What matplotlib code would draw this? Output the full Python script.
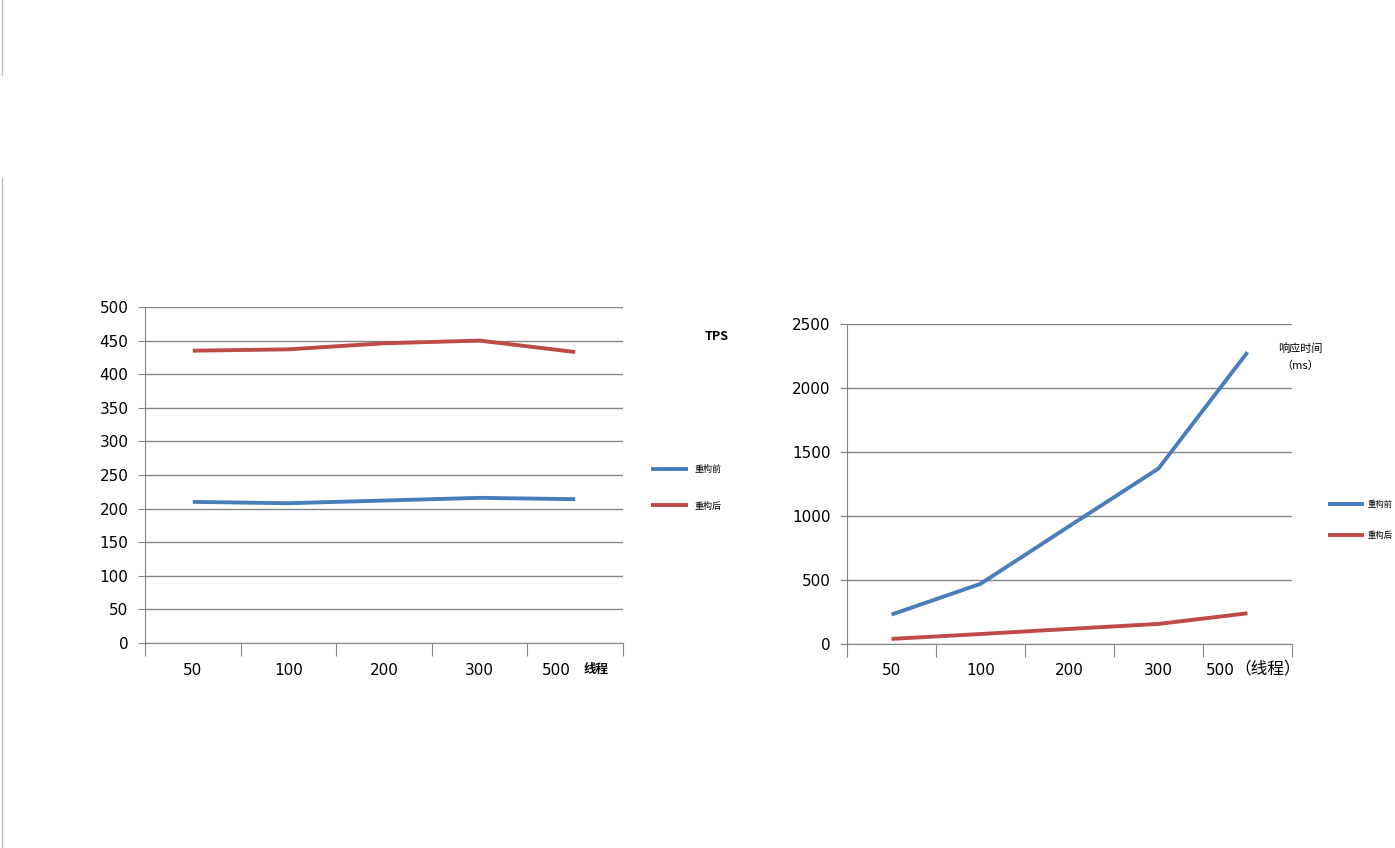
import matplotlib
matplotlib.use('Agg')
import matplotlib.pyplot as plt
from matplotlib.lines import Line2D
import numpy as np

plt.rcParams['font.family'] = ['DejaVu Sans', 'Noto Sans CJK SC']
plt.rcParams['axes.unicode_minus'] = False

# 数据
threads = ['50', '100', '200', '300', '500']
tps_before = [210, 208, 212, 216, 214]
tps_after = [435, 437, 446, 450, 433]
rt_before = [230, 470, 922, 1371, 2280]
rt_after = [40, 78, 118, 157, 240]
series_names = ['重构前', '重构后']

BLUE = '#4A7EBB'
RED = '#BE4B48'
GRID = '#868686'

W, H = 1395, 848
fig = plt.figure(figsize=(W / 100, H / 100), dpi=100)


def px_axes(x0, x1, ytop, ybot):
    return fig.add_axes([x0 / W, 1 - ybot / H, (x1 - x0) / W, (ybot - ytop) / H])


def setup(ax, ymax, ystep, label_shift):
    x = np.arange(len(threads))
    ax.set_xlim(-0.5, len(threads) - 0.5)
    ax.set_ylim(0, ymax)
    ax.set_yticks(np.arange(0, ymax + 1, ystep))
    ax.set_xticks(np.arange(-0.5, len(threads)))
    ax.set_xticklabels([])
    ax.yaxis.grid(True, color=GRID, lw=1)
    ax.set_axisbelow(True)
    for s in ['top', 'right']:
        ax.spines[s].set_visible(False)
    for s in ['left', 'bottom']:
        ax.spines[s].set_color(GRID)
    ax.tick_params(axis='y', length=5, color=GRID, labelsize=11, pad=7)
    ax.tick_params(axis='x', length=9, color=GRID)
    # 类别标签（最后一个被单位标签挤到左边）
    for i, t in enumerate(threads):
        xi = x[i] - (label_shift if i == len(threads) - 1 else 0)
        ax.text(xi, -0.06, t, transform=ax.get_xaxis_transform(),
                ha='center', va='top', fontsize=11)
    return x


# 左图 TPS
ax1 = px_axes(145, 623, 307, 643)
x = setup(ax1, 500, 50, 0.2)
l1, = ax1.plot(x, tps_before, color=BLUE, lw=2.8, solid_capstyle='butt')
l2, = ax1.plot(x, tps_after, color=RED, lw=2.8, solid_capstyle='butt')
fig.text(596 / W, 1 - 669 / H, '线程', ha='center', va='center', fontsize=9,
         family=['Noto Sans CJK SC'], weight='bold')
fig.text(717 / W, 1 - 337 / H, 'TPS', ha='center', va='center', fontsize=9,
         family=['Noto Sans CJK SC'], weight='bold')
fig.legend([l1, l2], series_names, loc='center left',
           bbox_to_anchor=(651 / W, 1 - 488 / H), frameon=False,
           prop={'family': 'Noto Sans CJK SC', 'size': 6.5},
           handlelength=4.1, handletextpad=0.7, labelspacing=3.0,
           borderpad=0, borderaxespad=0)

# 右图 响应时间
ax2 = px_axes(847, 1292, 324, 644)
x = setup(ax2, 2500, 500, 0.3)
r1, = ax2.plot(x, rt_before, color=BLUE, lw=2.8, solid_capstyle='butt')
r2, = ax2.plot(x, rt_after, color=RED, lw=2.8, solid_capstyle='butt')
fig.text(1268 / W, 1 - 669 / H, '（线程）', ha='center', va='center', fontsize=12,
         family=['Noto Sans CJK SC'])
fig.text(1300 / W, 1 - 349 / H, '响应时间', ha='center', va='center', fontsize=8,
         family=['Noto Sans CJK SC'])
fig.text(1300 / W, 1 - 366 / H, '（ms）', ha='center', va='center', fontsize=8,
         family=['Noto Sans CJK SC'])
fig.legend([r1, r2], series_names, loc='center left',
           bbox_to_anchor=(1328 / W, 1 - 520 / H), frameon=False,
           prop={'family': 'Noto Sans CJK SC', 'size': 6},
           handlelength=4.3, handletextpad=0.5, labelspacing=2.7,
           borderpad=0, borderaxespad=0)

# 左侧边框线
fig.add_artist(Line2D([2 / W, 2 / W], [1, 1 - 75 / H], color='#BBBBBB', lw=1))
fig.add_artist(Line2D([2 / W, 2 / W], [1 - 178 / H, 0], color='#BBBBBB', lw=1))

plt.savefig('out.png', dpi=100)
